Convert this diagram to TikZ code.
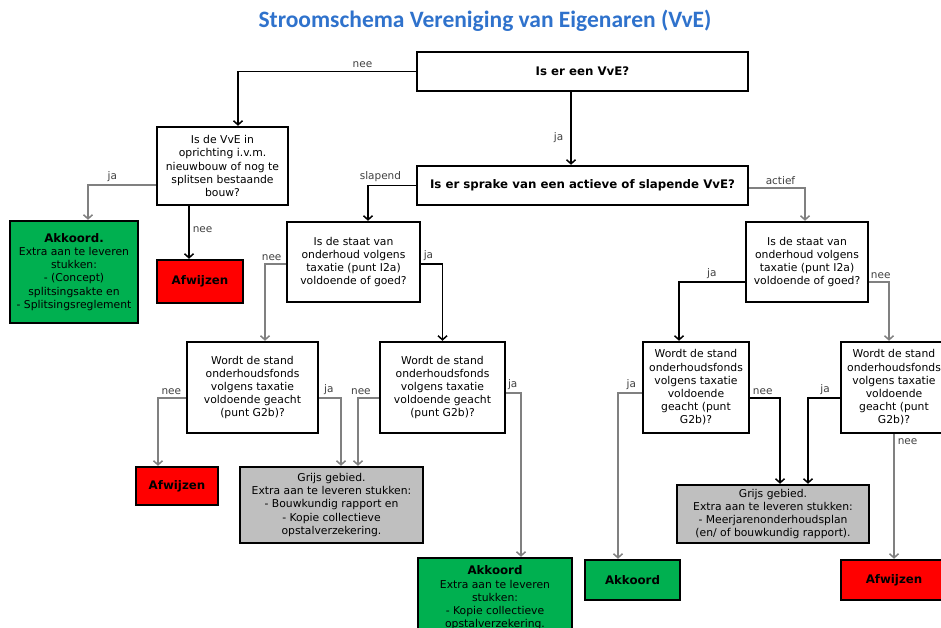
\documentclass[tikz,border=0pt]{standalone}
\usepackage{fontspec}
\setmainfont{DejaVu Sans}
\newfontfamily\titelfont{Carlito}
\usetikzlibrary{positioning,arrows.meta}
\definecolor{groen}{HTML}{00B050}
\definecolor{rood}{HTML}{FF0000}
\definecolor{grijs}{HTML}{BFBFBF}
\definecolor{titelblauw}{HTML}{2F72CC}
\definecolor{lijngrijs}{HTML}{808080}
\newcommand{\vet}[1]{{\fontsize{11.8}{13}\selectfont\bfseries #1}}

\begin{document}
\begin{tikzpicture}[x=1pt,y=-1pt,
  vak/.style={draw,line width=2.5pt,align=center,inner sep=1pt,
    font=\fontsize{10.8}{13.2}\selectfont},
  pijl/.style={line width=1.5pt,-{Straight Barb[length=4pt,width=9pt]}},
  lbl/.style={font=\fontsize{10.5}{12}\selectfont,text=black!75,inner sep=1pt}]
\useasboundingbox (0,0) rectangle (941,627);
\node[font=\titelfont\bfseries\fontsize{23.5}{26}\selectfont,text=titelblauw] (titel) at (485,21)
  {Stroomschema Vereniging van Eigenaren (VvE)};
% vragen
\node[vak,minimum width=331pt,minimum height=39pt] (q1) at (582.5,71.5) {\vet{Is er een VvE?}};
\node[vak,minimum width=331pt,minimum height=39pt] (q2) at (582.5,185.5)
  {\vet{Is er sprake van een actieve of slapende VvE?}};
\node[vak,minimum width=131pt,minimum height=78pt] (q3) at (222.5,166)
  {Is de VvE in\\oprichting i.v.m.\\nieuwbouw of nog te\\splitsen bestaande\\bouw?};
\node[vak,minimum width=133pt,minimum height=80pt] (q4) at (353.5,262)
  {Is de staat van\\onderhoud volgens\\taxatie (punt I2a)\\voldoende of goed?};
\node[vak,minimum width=122pt,minimum height=80pt] (q5) at (807,262)
  {Is de staat van\\onderhoud volgens\\taxatie (punt I2a)\\voldoende of goed?};
\node[vak,minimum width=131pt,minimum height=91pt] (q6) at (252.5,387.5)
  {Wordt de stand\\onderhoudsfonds\\volgens taxatie\\voldoende geacht\\(punt G2b)?};
\node[vak,minimum width=125pt,minimum height=91pt] (q7) at (442.5,387.5)
  {Wordt de stand\\onderhoudsfonds\\volgens taxatie\\voldoende geacht\\(punt G2b)?};
\node[vak,minimum width=106pt,minimum height=91pt] (q8) at (696,387.5)
  {Wordt de stand\\onderhoudsfonds\\volgens taxatie\\voldoende\\geacht (punt\\G2b)?};
\node[vak,minimum width=106pt,minimum height=91pt] (q9) at (894,387.5)
  {Wordt de stand\\onderhoudsfonds\\volgens taxatie\\voldoende\\geacht (punt\\G2b)?};
% uitkomsten
\node[vak,fill=groen,minimum width=128pt,minimum height=102pt] (akk1) at (74,272)
  {\vet{Akkoord.}\\Extra aan te leveren\\stukken:\\- (Concept)\\splitsingsakte en\\- Splitsingsreglement};
\node[vak,fill=rood,minimum width=86pt,minimum height=43pt] (afw1) at (200,281.5) {\vet{Afwijzen}};
\node[vak,fill=rood,minimum width=82pt,minimum height=38pt] (afw2) at (177,486) {\vet{Afwijzen}};
\node[vak,fill=grijs,minimum width=183pt,minimum height=76pt] (grijs1) at (331.5,505)
  {Grijs gebied.\\Extra aan te leveren stukken:\\- Bouwkundig rapport en\\- Kopie collectieve\\opstalverzekering.};
\node[vak,fill=groen,minimum width=154pt,minimum height=80pt] (akk2) at (495,598)
  {\vet{Akkoord}\\Extra aan te leveren\\stukken:\\- Kopie collectieve\\opstalverzekering.};
\node[vak,fill=grijs,minimum width=192pt,minimum height=58pt] (grijs2) at (773,514)
  {Grijs gebied.\\Extra aan te leveren stukken:\\- Meerjarenonderhoudsplan\\(en/ of bouwkundig rapport).};
\node[vak,fill=groen,minimum width=95pt,minimum height=40pt] (akk3) at (632.5,580) {\vet{Akkoord}};
\node[vak,fill=rood,minimum width=106pt,minimum height=40pt] (afw3) at (894,580) {\vet{Afwijzen}};
% pijlen
\draw[pijl] (q1.west) -| node[lbl,above=2pt,pos=0.15]{nee} ([xshift=15.5pt]q3.north);
\draw[pijl] ([xshift=-11.5pt]q1.south) -- node[lbl,left=6pt,pos=0.62]{ja} ([xshift=-11.5pt]q2.north);
\draw[pijl,lijngrijs] ([yshift=-19pt]q3.west) -| node[lbl,above=2pt,pos=0.32]{ja} ([xshift=14pt]akk1.north);
\draw[pijl] ([xshift=-33.5pt]q3.south) -- node[lbl,right=2pt,pos=0.45]{nee} ([xshift=-11pt]afw1.north);
\draw[pijl] (q2.west) -| node[lbl,above=2pt,pos=0.37]{slapend} ([xshift=14.5pt]q4.north);
\draw[pijl,lijngrijs] ([yshift=-2.5pt]q2.east) -| node[lbl,above=2pt,pos=0.28]{actief} ([xshift=-2pt]q5.north);
\draw[pijl,lijngrijs] ([yshift=-2pt]q4.west) -| node[lbl,above=2pt,pos=0.34]{nee} ([xshift=12.5pt]q6.north);
\draw[pijl] ([yshift=-2pt]q4.east) -| node[lbl,above=2pt,pos=0.17]{ja} (q7.north);
\draw[pijl,lijngrijs] ([yshift=-10.5pt]q6.west) -| node[lbl,above=2pt,pos=0.26]{nee} ([xshift=-19pt]afw2.north);
\draw[pijl,lijngrijs] ([yshift=-10.5pt]q6.east) -| node[lbl,above=2pt,pos=0.22]{ja} ([xshift=9.5pt]grijs1.north);
\draw[pijl,lijngrijs] ([yshift=-10.5pt]q7.west) -| node[lbl,above=2pt,pos=0.43]{nee} ([xshift=26.5pt]grijs1.north);
\draw[pijl,lijngrijs] ([yshift=-5.5pt]q7.east) -| node[lbl,above=2pt,pos=0.22]{ja} ([xshift=26pt]akk2.north);
\draw[pijl] ([yshift=-20pt]q5.west) -| node[lbl,above=2pt,pos=0.25]{ja} ([xshift=-17pt]q8.north);
\draw[pijl,lijngrijs] ([yshift=-20pt]q5.east) -| node[lbl,above=2pt,pos=0.29]{nee} ([xshift=-5pt]q9.north);
\draw[pijl,lijngrijs] ([yshift=-5.5pt]q8.west) -| node[lbl,above=2pt,pos=0.22]{ja} ([xshift=-14.5pt]akk3.north);
\draw[pijl] ([yshift=-10.5pt]q8.east) -| node[lbl,above=2pt,pos=0.21]{nee} ([xshift=7pt]grijs2.north);
\draw[pijl] ([yshift=-10.5pt]q9.west) -| node[lbl,above=2pt,pos=0.23]{ja} ([xshift=35pt]grijs2.north);
\draw[pijl,lijngrijs] (q9.south) -- node[lbl,right=2pt,pos=0.06]{nee} (afw3.north);
\end{tikzpicture}
\end{document}
